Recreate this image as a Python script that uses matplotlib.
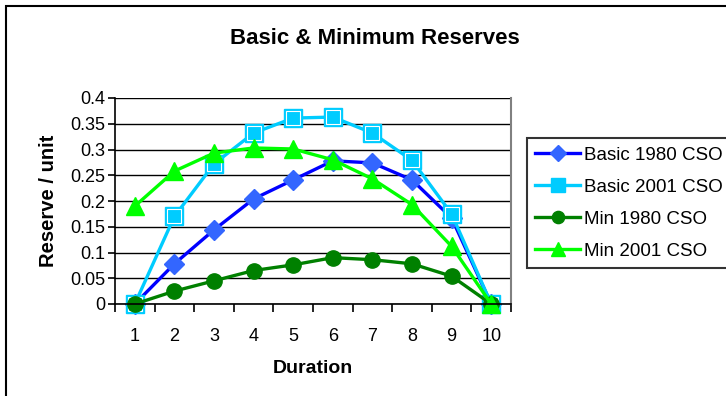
import matplotlib
matplotlib.use("Agg")
import matplotlib.pyplot as plt
from matplotlib.patches import Rectangle

plt.rcParams['font.family'] = ['Liberation Sans', 'DejaVu Sans']

# --- data ---
duration = [1, 2, 3, 4, 5, 6, 7, 8, 9, 10]
basic_1980 = [0.0, 0.078, 0.144, 0.204, 0.241, 0.278, 0.274, 0.241, 0.167, 0.0]
basic_2001 = [0.0, 0.170, 0.272, 0.332, 0.361, 0.363, 0.332, 0.279, 0.175, 0.0]
min_1980 = [0.0, 0.025, 0.045, 0.065, 0.076, 0.090, 0.086, 0.078, 0.054, 0.0]
min_2001 = [0.19, 0.258, 0.293, 0.303, 0.301, 0.280, 0.243, 0.193, 0.112, 0.0]
y_ticks = [0, 0.05, 0.1, 0.15, 0.2, 0.25, 0.3, 0.35, 0.4]
y_labels = ["0", "0.05", "0.1", "0.15", "0.2", "0.25", "0.3", "0.35", "0.4"]

W, H = 726, 396
FS = 13
fig = plt.figure(figsize=(W / 100, H / 100), dpi=100)

# chart area border (right/bottom run off the picture)
fig.patches.append(Rectangle((6 / W, -0.1), 1.2, 1 - 6 / H + 0.1, transform=fig.transFigure,
                             fill=False, edgecolor='black', linewidth=1.5))

ax = fig.add_axes([115 / W, 1 - 304 / H, (511 - 115) / W, (304 - 98) / H])

ax.plot(duration, basic_1980, color='#0000FF', linewidth=2.4, marker='D', markersize=10,
        markerfacecolor='#3366FF', markeredgecolor='#3366FF', label='Basic 1980 CSO', clip_on=False)
ax.plot(duration, basic_2001, color='#00CCFF', linewidth=2.4, marker='s', markersize=12.5,
        markerfacecolor='#00CCFF', markeredgecolor='#00CCFF', label='Basic 2001 CSO', clip_on=False)
# white inner ring of the Excel square markers
ax.plot(duration, basic_2001, linestyle='none', marker='s', markersize=9.5,
        markerfacecolor='#00CCFF', markeredgecolor='white', markeredgewidth=0.8, clip_on=False)
ax.plot(duration, min_1980, color='#008000', linewidth=2.4, marker='o', markersize=11,
        markerfacecolor='#008000', markeredgecolor='#008000', label='Min 1980 CSO', clip_on=False)
ax.plot(duration, min_2001, color='#00FF00', linewidth=2.4, marker='^', markersize=13,
        markerfacecolor='#00FF00', markeredgecolor='#00FF00', label='Min 2001 CSO', clip_on=False)

ax.set_xlim(0.5, 10.5)
ax.set_ylim(0, 0.4)
ax.set_yticks(y_ticks)
ax.set_yticklabels(y_labels, fontsize=FS)
ax.yaxis.grid(True, color='black', linewidth=1)
ax.set_axisbelow(True)

# category labels centred, tick marks on the boundaries
ax.set_xticks([d - 0.5 for d in duration] + [10.5])
ax.set_xticklabels([])
ax.set_xticks(duration, minor=True)
ax.set_xticklabels([str(d) for d in duration], minor=True, fontsize=FS)
ax.tick_params(axis='x', which='major', length=6, direction='out', width=1.2)
ax.tick_params(axis='x', which='minor', length=0, pad=17)
ax.tick_params(axis='y', length=5, direction='out', width=1.2, pad=2)

ax.spines['top'].set_visible(False)
ax.spines['right'].set_color('#808080')
ax.spines['right'].set_linewidth(1.5)
ax.spines['left'].set_linewidth(1.2)
ax.spines['bottom'].set_linewidth(1.2)

ax.set_xlabel('Duration', fontsize=14, fontweight='bold', labelpad=11)
ax.set_ylabel('Reserve / unit', fontsize=14.5, fontweight='bold', labelpad=9)
fig.text(375 / W, 1 - 38 / H, 'Basic & Minimum Reserves', fontsize=16, fontweight='bold',
         ha='center', va='center')

leg = fig.legend(loc='upper left', bbox_to_anchor=(527 / W, 1 - 138 / H), fontsize=13.5,
                 frameon=True, fancybox=False, edgecolor='black', handlelength=2.4,
                 handletextpad=0.2, borderpad=0.45, borderaxespad=0, labelspacing=0.8,
                 markerscale=0.8)
leg.get_frame().set_linewidth(1.5)

fig.savefig('out.png', dpi=100)
